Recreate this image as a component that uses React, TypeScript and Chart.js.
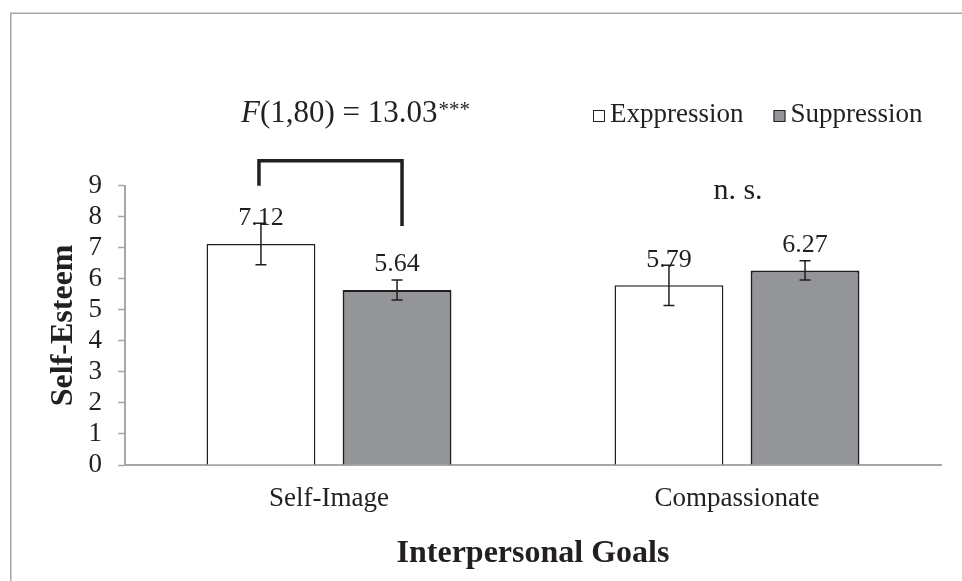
import React, { useEffect, useRef } from 'react';
import { Chart, registerables } from 'chart.js';

Chart.register(...registerables);

// ---- data ----
const categories = ['Self-Image', 'Compassionate'];
const seriesNames = ['Exppression', 'Suppression'];
const expressionValues = [7.12, 5.79];
const suppressionValues = [5.64, 6.27];
const expressionErrors = [0.67, 0.65];
const suppressionErrors = [0.32, 0.31];
const yTickValues = [0, 1, 2, 3, 4, 5, 6, 7, 8, 9];
// bracket levels (y values): left leg end, top bar, right leg end
const bracketLevels = [9.0, 9.8, 7.7];
const nsLevel = 8.81;
const statLabel = ['F', '(1,80) = 13.03', '***'];
const nsLabel = 'n. s.';
const axisTitles = ['Interpersonal Goals', 'Self-Esteem'];

// ---- style ----
const FONT = "'Liberation Serif', 'Times New Roman', serif";
const INK = '#231f20';
const AXIS = '#a6a6a6';
const FILLS = ['#ffffff', '#939598'];
const PAD = { top: 185.7, left: 45, right: 21, bottom: 8 };
const PLOT_LEFT = 125;
const PLOT_BOTTOM = 465;
const H = 581;
const W = 962;

const errorSets = [expressionErrors, suppressionErrors];

const annotatePlugin = {
  id: 'annotate',
  beforeDraw(chart: any) {
    const ctx = chart.ctx;
    ctx.save();
    ctx.fillStyle = '#ffffff';
    ctx.fillRect(0, 0, chart.width, chart.height);
    ctx.strokeStyle = AXIS;
    ctx.lineWidth = 1.5;
    ctx.strokeRect(10.75, 13.25, chart.width + 40, chart.height + 40);
    ctx.restore();
  },
  afterDatasetsDraw(chart: any) {
    const ctx = chart.ctx;
    const ys = chart.scales.y;
    ctx.save();
    // value labels + error bars
    chart.data.datasets.forEach((ds: any, di: number) => {
      const meta = chart.getDatasetMeta(di);
      meta.data.forEach((bar: any, i: number) => {
        const v = ds.data[i] as number;
        const top = ys.getPixelForValue(v);
        ctx.fillStyle = INK;
        ctx.font = `26px ${FONT}`;
        ctx.textAlign = 'center';
        ctx.textBaseline = 'middle';
        ctx.fillText(v.toFixed(2), bar.x, top - 25.5);
        const e = errorSets[di][i];
        const y1 = ys.getPixelForValue(v + e);
        const y2 = ys.getPixelForValue(v - e);
        ctx.strokeStyle = INK;
        ctx.lineWidth = 1.5;
        ctx.beginPath();
        ctx.moveTo(bar.x, y1);
        ctx.lineTo(bar.x, y2);
        ctx.moveTo(bar.x - 5.5, y1);
        ctx.lineTo(bar.x + 5.5, y1);
        ctx.moveTo(bar.x - 5.5, y2);
        ctx.lineTo(bar.x + 5.5, y2);
        ctx.stroke();
      });
    });

    // significance bracket over group 1
    const b0 = chart.getDatasetMeta(0).data[0];
    const b1 = chart.getDatasetMeta(1).data[0];
    const xl = b0.x - 2;
    const xr = b1.x + 5;
    ctx.strokeStyle = INK;
    ctx.lineWidth = 3.5;
    ctx.lineCap = 'butt';
    ctx.lineJoin = 'miter';
    ctx.beginPath();
    ctx.moveTo(xl, ys.getPixelForValue(bracketLevels[0]));
    ctx.lineTo(xl, ys.getPixelForValue(bracketLevels[1]));
    ctx.lineTo(xr, ys.getPixelForValue(bracketLevels[1]));
    ctx.lineTo(xr, ys.getPixelForValue(bracketLevels[2]));
    ctx.stroke();

    // n.s. over group 2
    const xs = chart.scales.x;
    ctx.fillStyle = INK;
    ctx.font = `30px ${FONT}`;
    ctx.textAlign = 'center';
    ctx.textBaseline = 'middle';
    ctx.fillText(nsLabel, xs.getPixelForValue(1) + 1, ys.getPixelForValue(nsLevel));

    // F statistic text
    const fx = b0.x - 20;
    const fy = 114;
    ctx.textAlign = 'left';
    ctx.textBaseline = 'middle';
    ctx.font = `italic 31px ${FONT}`;
    ctx.fillText(statLabel[0], fx, fy);
    let cx = fx + ctx.measureText(statLabel[0]).width;
    ctx.font = `31px ${FONT}`;
    ctx.fillText(statLabel[1], cx, fy);
    cx += ctx.measureText(statLabel[1]).width + 1;
    ctx.font = `21px ${FONT}`;
    ctx.fillText(statLabel[2], cx, fy - 4);

    // legend
    ctx.font = `27px ${FONT}`;
    const box = 12;
    const gapBT = 5;
    const itemGap = 30;
    const ly = 115;
    let left = chart.chartArea.left + 468;
    chart.data.datasets.forEach((ds: any) => {
      const bx = left;
      ctx.fillStyle = ds.backgroundColor;
      ctx.fillRect(bx, ly + 1 - box / 2, box, box);
      ctx.strokeStyle = INK;
      ctx.lineWidth = 1;
      ctx.strokeRect(bx + 0.5, ly + 1 - box / 2 + 0.5, box - 1, box - 1);
      const tx = bx + box + gapBT;
      ctx.fillStyle = INK;
      ctx.textAlign = 'left';
      ctx.fillText(ds.label, tx, ly);
      left = tx + ctx.measureText(ds.label).width + itemGap;
    });
    ctx.restore();
  },
};

export default function App() {
  const ref = useRef<HTMLCanvasElement>(null);
  useEffect(() => {
    if (!ref.current) return;
    const chart = new Chart(ref.current, {
      type: 'bar',
      data: {
        labels: categories,
        datasets: [
          {
            label: seriesNames[0],
            data: expressionValues,
            backgroundColor: FILLS[0],
            borderColor: INK,
            borderWidth: 1.5,
            categoryPercentage: 0.667,
            barPercentage: 0.8,
          },
          {
            label: seriesNames[1],
            data: suppressionValues,
            backgroundColor: FILLS[1],
            borderColor: INK,
            borderWidth: 2,
            categoryPercentage: 0.667,
            barPercentage: 0.8,
          },
        ],
      },
      options: {
        responsive: false,
        animation: false,
        devicePixelRatio: 1,
        layout: { padding: PAD },
        plugins: {
          legend: { display: false },
          tooltip: { enabled: false },
          title: { display: false },
        },
        scales: {
          x: {
            grid: { display: false, drawTicks: false },
            border: { display: true, color: AXIS, width: 2 },
            ticks: { font: { family: FONT, size: 27 }, color: INK, padding: 18 },
            title: {
              display: true,
              text: axisTitles[0],
              font: { family: FONT, size: 32, weight: 'bold' },
              color: INK,
              padding: { top: 0, bottom: 0 },
            },
            afterFit: (scale: any) => {
              scale.height = H - PAD.bottom - PLOT_BOTTOM;
            },
          },
          y: {
            min: 0,
            max: 9,
            afterBuildTicks: (scale: any) => {
              scale.ticks = yTickValues.map((v) => ({ value: v }));
            },
            grid: { drawOnChartArea: false, drawTicks: true, tickLength: 7, color: AXIS, tickColor: AXIS, tickWidth: 1.5 },
            border: { display: true, color: AXIS, width: 2 },
            ticks: { font: { family: FONT, size: 27 }, color: INK, padding: 16, autoSkip: false },
            title: {
              display: true,
              text: axisTitles[1],
              font: { family: FONT, size: 32, weight: 'bold' },
              color: INK,
              padding: { top: 0, bottom: 0 },
            },
            afterFit: (scale: any) => {
              scale.width = PLOT_LEFT - PAD.left;
            },
          },
        },
      },
      plugins: [annotatePlugin],
    } as any);
    return () => chart.destroy();
  }, []);
  return (
    <div style={{ position: 'absolute', left: 0, top: 0, width: W, height: H }}>
      <canvas ref={ref} width={W} height={H} style={{ display: 'block' }} />
    </div>
  );
}
